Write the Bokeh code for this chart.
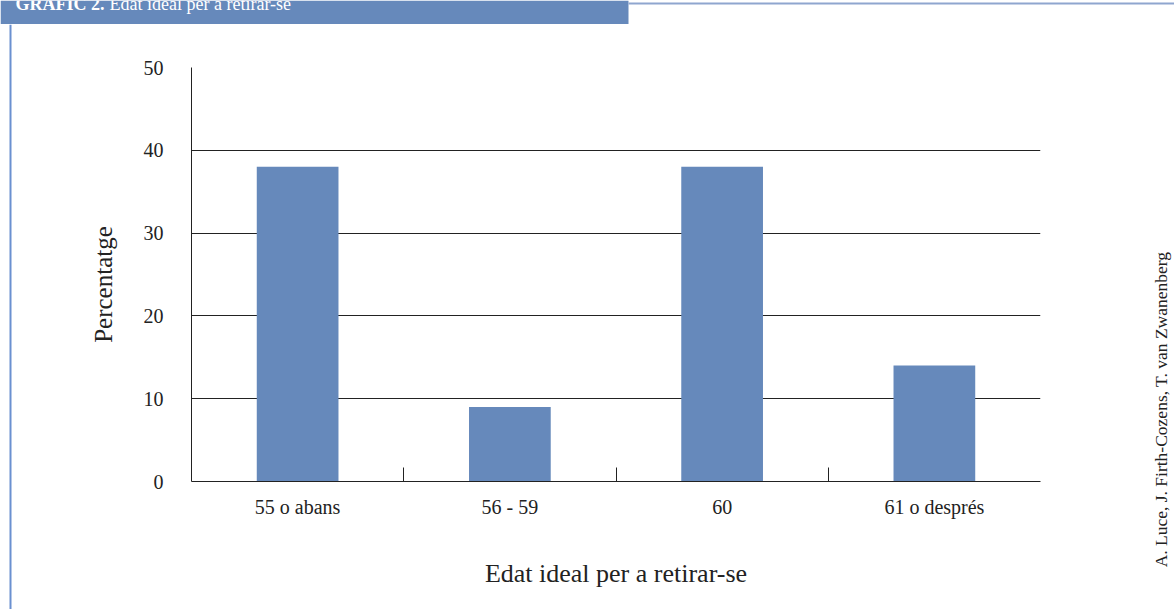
from math import pi

from bokeh.core.properties import value
from bokeh.embed import file_html
from bokeh.layouts import column, row
from bokeh.models import ColumnDataSource, FixedTicker, Range1d
from bokeh.plotting import figure
from bokeh.resources import INLINE

# Ideal retirement age survey (percentages)
categories = ["55 o abans", "56 - 59", "60", "61 o després"]
percentages = [38, 9, 38, 14]
y_ticks = [0, 10, 20, 30, 40, 50]

header_bold = "GRÀFIC 2."
header_text = "Edat ideal per a retirar-se"
x_title = "Edat ideal per a retirar-se"
y_title = "Percentatge"
credit = "A. Luce, J. Firth-Cozens, T. van Zwanenberg"

BAR = "#6689bb"
RULE = "#8fa6cf"
SIDE = "#6a90d0"
INK = "#222222"
SERIF = "Liberation Serif"

W, H = 1174, 609
HEADER_H = 24
LEFT_W, RIGHT_W = 120, 100
BODY_H = H - HEADER_H
MAIN_W = W - LEFT_W - RIGHT_W


def blank(width, height, xr, yr):
    f = figure(width=width, height=height, output_backend="svg",
               toolbar_location=None, x_range=xr, y_range=yr,
               x_axis_type=None, y_axis_type=None, min_border=0)
    f.outline_line_color = None
    f.grid.visible = False
    f.background_fill_color = "white"
    f.border_fill_color = "white"
    return f


# header band with the chart title and a thin rule to the right
head = blank(W, HEADER_H, Range1d(0, W), Range1d(0, HEADER_H))
head.quad(left=[0], right=[628], bottom=[0], top=[HEADER_H],
          fill_color=BAR, line_color=None)
head.quad(left=[628], right=[W], bottom=[HEADER_H - 4], top=[HEADER_H - 2],
          fill_color=RULE, line_color=None)
head.text(x=[15], y=[HEADER_H - 3], text=[header_bold],
          text_font=value(SERIF), text_font_size="18px",
          text_font_style="bold", text_color="white",
          text_baseline="alphabetic")
head.text(x=[109], y=[HEADER_H - 3], text=[header_text],
          text_font=value(SERIF), text_font_size="18px",
          text_color="white", text_baseline="alphabetic")

# left margin: page rule and the vertical axis title
left = blank(LEFT_W, BODY_H, Range1d(0, LEFT_W), Range1d(0, BODY_H))
left.quad(left=[9], right=[11], bottom=[0], top=[BODY_H],
          fill_color=SIDE, line_color=None)
left.text(x=[103], y=[H - 286 + 2], text=[y_title], angle=pi / 2,
          text_font=value(SERIF), text_font_size="25px", text_color=INK,
          text_align="center", text_baseline="middle")

# right margin with the author credit
right = blank(RIGHT_W, BODY_H, Range1d(0, RIGHT_W), Range1d(0, BODY_H))
right.text(x=[86], y=[H - 422 + 13], text=[credit], angle=pi / 2,
           text_font=value(SERIF), text_font_size="17.5px", text_color=INK,
           text_align="center", text_baseline="middle")

# main bar chart
positions = [i + 0.5 for i in range(len(categories))]
src = ColumnDataSource(dict(x=positions, top=percentages, cat=categories))

F_LEFT, F_RIGHT, F_TOP, F_BOTTOM = 191, 1040, 67, 481
p = figure(width=MAIN_W, height=BODY_H, output_backend="svg",
           toolbar_location=None,
           x_range=Range1d(0, len(categories)), y_range=Range1d(0, 50),
           min_border_left=F_LEFT - LEFT_W,
           min_border_right=LEFT_W + MAIN_W - F_RIGHT,
           min_border_top=F_TOP - HEADER_H,
           min_border_bottom=H - F_BOTTOM)
p.outline_line_color = None
p.background_fill_color = "white"
p.border_fill_color = "white"

p.vbar(x="x", top="top", width=0.385, bottom=0, source=src,
       fill_color=BAR, line_color=None)

xa = p.xaxis[0]
xa.ticker = FixedTicker(ticks=positions, minor_ticks=[1, 2, 3])
xa.major_label_overrides = {pos: c for pos, c in zip(positions, categories)}
xa.major_tick_line_color = None
xa.minor_tick_in = 14
xa.minor_tick_out = 0
xa.minor_tick_line_color = INK
xa.axis_line_color = INK
xa.major_label_text_font = SERIF
xa.major_label_text_font_size = "20px"
xa.major_label_text_color = INK
xa.major_label_standoff = 8
xa.axis_label = x_title
xa.axis_label_text_font = SERIF
xa.axis_label_text_font_size = "26px"
xa.axis_label_text_font_style = "normal"
xa.axis_label_text_color = INK
xa.axis_label_standoff = 38

ya = p.yaxis[0]
ya.ticker = FixedTicker(ticks=y_ticks, minor_ticks=[])
ya.major_tick_line_color = None
ya.minor_tick_line_color = None
ya.axis_line_color = INK
ya.major_label_text_font = SERIF
ya.major_label_text_font_size = "20px"
ya.major_label_text_color = INK
ya.major_label_standoff = 22

p.xgrid.grid_line_color = None
p.ygrid.grid_line_color = INK
p.ygrid.grid_line_width = 1

# side strips sit in their own columns so their frames keep full height
body = row(column(left, spacing=0), p, column(right, spacing=0), spacing=0)
layout = column(head, body, spacing=0)
open("out.html", "w").write(file_html(layout, INLINE))
